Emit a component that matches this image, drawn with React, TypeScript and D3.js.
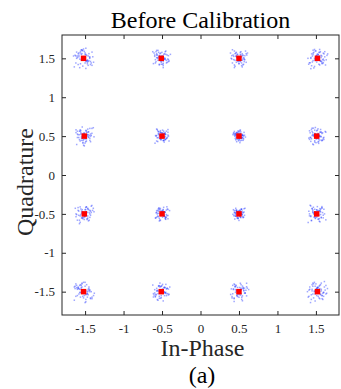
import { useEffect, useRef } from 'react';
import * as d3 from 'd3';

// measured cluster centres (red), 16-QAM grid
const centerI = [-1.52, -0.51, 0.5, 1.52, -1.51, -0.5, 0.5, 1.51, -1.51, -0.5, 0.5, 1.51, -1.52, -0.51, 0.5, 1.52];
const centerQ = [1.5, 1.5, 1.5, 1.5, 0.5, 0.5, 0.5, 0.5, -0.5, -0.5, -0.5, -0.5, -1.5, -1.5, -1.5, -1.5];
// how wide each cloud is (outer ones wider)
const spread = [1.0, 0.85, 0.85, 0.95, 0.9, 0.7, 0.6, 0.85, 0.9, 0.7, 0.6, 0.85, 1.0, 0.85, 0.9, 1.0];

// received sample offsets (in units) around each centre
const noiseI = [0.03, -0.07, 0.01, 0.11, -0.02, -0.05, 0.06, -0.10, 0.00, 0.04, -0.03, 0.08, -0.12, 0.02, 0.05, -0.06,
  0.09, -0.01, -0.04, 0.13, -0.08, 0.03, 0.07, -0.02, -0.09, 0.01, 0.05, -0.11, 0.04, -0.03, 0.10, -0.06,
  0.02, -0.01, 0.08, -0.04, 0.06, -0.13, 0.00, 0.03, -0.07, 0.12, -0.02, 0.05, -0.09, 0.01, 0.07, -0.05,
  0.04, -0.08, 0.02, 0.11, -0.03, -0.01, 0.06, -0.10, 0.03, 0.09, -0.06, 0.00, -0.04, 0.08, -0.02, 0.05,
  -0.12, 0.01, 0.10, -0.07, 0.03, -0.05, 0.14, -0.03, 0.02, -0.09, 0.06, -0.01, 0.04, -0.06, 0.08, -0.11,
  0.00, 0.07, -0.04, 0.02, -0.08, 0.05, -0.02, 0.09, -0.05, 0.01, -0.10, 0.06, 0.03, -0.07, 0.11, -0.03];
const noiseQ = [-0.04, 0.06, 0.02, -0.09, 0.10, -0.01, 0.03, -0.06, 0.12, -0.03, 0.05, 0.00, -0.11, 0.07, -0.02, 0.04,
  -0.08, 0.01, 0.09, -0.05, 0.03, -0.13, 0.06, -0.02, 0.08, 0.00, -0.07, 0.04, -0.03, 0.11, -0.06, 0.02,
  0.05, -0.10, 0.01, 0.07, -0.04, 0.03, -0.01, 0.13, -0.08, 0.02, 0.06, -0.05, 0.00, 0.09, -0.03, -0.12,
  0.04, 0.01, -0.06, 0.08, -0.02, 0.10, -0.09, 0.03, 0.05, -0.04, 0.07, -0.01, -0.07, 0.02, 0.11, -0.03,
  0.06, -0.05, 0.00, 0.04, -0.10, 0.08, -0.02, 0.03, -0.14, 0.05, 0.01, -0.06, 0.09, -0.03, 0.02, 0.07,
  -0.08, 0.04, -0.01, 0.12, -0.05, 0.00, 0.06, -0.09, 0.03, -0.02, 0.10, -0.04, 0.01, 0.05, -0.07, 0.08];
const samplesPerCluster = 64;

const tickValues = [-1.5, -1, -0.5, 0, 0.5, 1, 1.5];

export default function App() {
  const svgRef = useRef<SVGSVGElement>(null);

  useEffect(() => {
    const width = 341;
    const height = 389;
    const margin = { top: 35, right: 2, bottom: 74, left: 62 };
    const w = width - margin.left - margin.right;
    const h = height - margin.top - margin.bottom;
    const axisColor = '#262626';
    const font = '"Liberation Serif", "Times New Roman", serif';

    const svg = d3.select(svgRef.current);
    svg.selectAll('*').remove();
    svg.attr('width', width).attr('height', height);

    const g = svg.append('g').attr('transform', `translate(${margin.left},${margin.top})`);

    const x = d3.scaleLinear().domain([-1.8, 1.8]).range([0, w]);
    const y = d3.scaleLinear().domain([-1.8, 1.8]).range([h, 0]);

    // scatter clouds
    const pts: { i: number; q: number }[] = [];
    centerI.forEach((ci, k) => {
      const cq = centerQ[k];
      for (let j = 0; j < samplesPerCluster; j++) {
        const a = noiseI[(k * 37 + j) % noiseI.length];
        const b = noiseQ[(k * 53 + j) % noiseQ.length];
        pts.push({ i: ci + a * spread[k], q: cq + b * spread[k] });
      }
    });

    g.append('g')
      .selectAll('rect')
      .data(pts)
      .join('rect')
      .attr('x', d => x(d.i) - 0.75)
      .attr('y', d => y(d.q) - 0.75)
      .attr('width', 1.5)
      .attr('height', 1.5)
      .attr('fill', '#2a3cff')
      .attr('opacity', 0.45);

    // red centres
    g.append('g')
      .selectAll('rect')
      .data(centerI.map((ci, k) => ({ i: ci, q: centerQ[k] })))
      .join('rect')
      .attr('x', d => x(d.i) - 2.75)
      .attr('y', d => y(d.q) - 2.75)
      .attr('width', 5.5)
      .attr('height', 5.5)
      .attr('fill', '#ff0000');

    // axes, ticks pointing in on every side
    const styleAxis = (sel: d3.Selection<SVGGElement, unknown, null, undefined>) => {
      sel.select('.domain').remove();
      sel.selectAll('line').attr('stroke', axisColor);
      sel.selectAll('text')
        .attr('fill', axisColor)
        .style('font-family', font)
        .style('font-size', '13px');
    };

    const fmt = (d: d3.NumberValue) => String(d);

    g.append('g')
      .attr('transform', `translate(0,${h})`)
      .call(d3.axisBottom(x).tickValues(tickValues).tickSize(-4).tickPadding(9).tickFormat(fmt))
      .call(styleAxis);
    g.append('g')
      .call(d3.axisTop(x).tickValues(tickValues).tickSize(-4).tickFormat(() => ''))
      .call(styleAxis);
    g.append('g')
      .call(d3.axisLeft(y).tickValues(tickValues).tickSize(-4).tickPadding(7).tickFormat(fmt))
      .call(styleAxis);
    g.append('g')
      .attr('transform', `translate(${w},0)`)
      .call(d3.axisRight(y).tickValues(tickValues).tickSize(-4).tickFormat(() => ''))
      .call(styleAxis);

    // box
    g.append('rect')
      .attr('width', w)
      .attr('height', h)
      .attr('fill', 'none')
      .attr('stroke', axisColor)
      .attr('stroke-width', 1);

    // labels
    svg.append('text')
      .attr('x', margin.left + w / 2)
      .attr('y', 28)
      .attr('text-anchor', 'middle')
      .style('font-family', font)
      .style('font-size', '24px')
      .attr('fill', '#000')
      .text('Before Calibration');

    svg.append('text')
      .attr('x', margin.left + w / 2 + 2)
      .attr('y', 356)
      .attr('text-anchor', 'middle')
      .style('font-family', font)
      .style('font-size', '24px')
      .attr('fill', axisColor)
      .text('In-Phase');

    svg.append('text')
      .attr('transform', `translate(33,${margin.top + h / 2 + 7}) rotate(-90)`)
      .attr('text-anchor', 'middle')
      .style('font-family', font)
      .style('font-size', '24px')
      .attr('fill', axisColor)
      .text('Quadrature');

    svg.append('text')
      .attr('x', 202)
      .attr('y', 383)
      .attr('text-anchor', 'middle')
      .style('font-family', font)
      .style('font-size', '24px')
      .attr('fill', '#000')
      .text('(a)');
  }, []);

  return (
    <div style={{ position: 'absolute', left: 0, top: 0 }}>
      <svg ref={svgRef}></svg>
    </div>
  );
}
